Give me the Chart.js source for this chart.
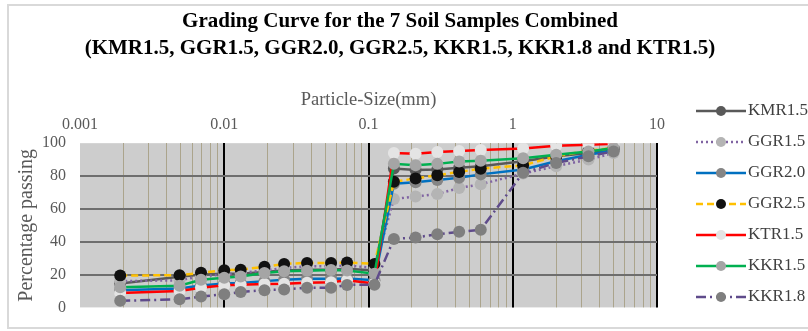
<!DOCTYPE html>
<html>
<head>
<meta charset="utf-8">
<script src="https://cdn.jsdelivr.net/npm/chart.js@4/dist/chart.umd.min.js"></script>
<style>
  html, body { margin: 0; padding: 0; background: #fff; }
  #wrap { width: 808px; height: 331px; }
</style>
</head>
<body>
<div id="wrap"><canvas id="chart" width="808" height="331"></canvas></div>
<script>
// particle sizes (mm) - hydrometer + sieves
const sizes = [0.0019, 0.0049, 0.0069, 0.01, 0.013, 0.019, 0.026, 0.0375, 0.055, 0.071, 0.11,
               0.15, 0.212, 0.3, 0.425, 0.6, 1.18, 2, 3.35, 5];

// percentage passing per sample
const kmr15 = [14.6, 18.7, 20, 20.5, 20.5, 21.5, 22.5, 23, 23, 23.5, 22.5, 84.6, 83.7, 84, 85, 86, 89, 92, 94, 96];
const ggr15 = [16, 16.5, 19, 20, 21, 22.5, 24, 25, 25, 25.5, 24, 66, 67.5, 69, 72.7, 75, 81.5, 86, 90, 94];
const ggr20 = [10.5, 11.5, 13.3, 14.6, 14.8, 16, 16.8, 17.4, 17.4, 17.6, 16.5, 75.3, 76.2, 77.6, 79, 81, 84, 89, 93, 95.5];
const ggr25 = [19.4, 19.6, 21.1, 22.6, 23, 24.7, 26.5, 27.1, 27.1, 27.3, 26.5, 76.5, 78.5, 80.5, 82.5, 84.5, 86.5, 92, 95.5, 97];
const ktr15 = [8.8, 10, 12, 13.5, 13.8, 14.2, 14.4, 15, 15.3, 16.5, 14.5, 94, 93.5, 94.6, 95.3, 95.9, 96.8, 98.5, 99, 99.6];
const kkr15 = [12.3, 13.2, 16.8, 18, 18.8, 21, 22, 22.3, 22.8, 22.5, 20.5, 87.5, 86.5, 87.4, 88.8, 89.3, 90.8, 93, 95, 97];
const kkr18 = [4, 4.9, 6.6, 8, 9.4, 10.5, 10.9, 12, 12, 13.7, 13.8, 41.7, 42.6, 44.5, 46, 47.3, 82, 88, 92, 95];

// axis decades and labels
const decades = [0.001, 0.01, 0.1, 1, 10];
const xTickLabels = ["0.001", "0.01", "0.1", "1", "10"];

const serif = "'Liberation Serif', 'Times New Roman', serif";

// gridline positions 1..9 in each decade
const gridTicks = [];
for (let i = 0; i < decades.length - 1; i++) {
    for (let k = 1; k <= 9; k++) gridTicks.push(k * decades[i]);
}
gridTicks.push(decades[decades.length - 1]);

const pts = arr => sizes.map((s, i) => ({ x: s, y: arr[i] }));

function serie(label, arr, line, marker, dash) {
    return {
        type: "line",
        label: label,
        data: pts(arr),
        borderColor: line,
        borderWidth: 2.5,
        borderDash: dash || [],
        pointBackgroundColor: marker,
        pointBorderColor: marker,
        pointBorderWidth: 0,
        pointRadius: 6,
        pointHoverRadius: 6,
        tension: 0,
        fill: false
    };
}

const datasets = [
    serie("KMR1.5", kmr15, "#595959", "#595959"),
    serie("GGR1.5", ggr15, "#8064a2", "#b4b4b4", [2, 3]),
    serie("GGR2.0", ggr20, "#0070c0", "#858585"),
    serie("GGR2.5", ggr25, "#ffc000", "#111111", [7, 4]),
    serie("KTR1.5", ktr15, "#ff0000", "#e4e4e4"),
    serie("KKR1.5", kkr15, "#00b050", "#a5a5a5"),
    serie("KKR1.8", kkr18, "#5f4b8b", "#7f7f7f", [10, 4, 2, 4])
];
// later series on top, like excel
datasets.forEach((d, i) => d.order = datasets.length - i);

// fondo del area + borde del grafico
const fondo = {
    id: "fondo",
    beforeDraw(chart) {
        const { ctx, chartArea: { left, top, width, height } } = chart;
        ctx.save();
        ctx.fillStyle = "#fff";
        ctx.fillRect(0, 0, chart.width, chart.height);
        ctx.strokeStyle = "#d9d9d9";
        ctx.lineWidth = 2;
        ctx.strokeRect(8, 5, chart.width, chart.height - 8);
        ctx.fillStyle = "#cdcdcd";
        ctx.fillRect(left, top, width, height);
        ctx.restore();
    }
};

// leyenda estilo excel (linea + marcador)
const leyenda = {
    id: "leyenda",
    afterDraw(chart) {
        const { ctx } = chart;
        ctx.save();
        chart.data.datasets.forEach((ds, i) => {
            const y = 111 + i * 31;
            ctx.strokeStyle = ds.borderColor;
            ctx.lineWidth = 2.5;
            ctx.setLineDash(ds.borderDash);
            ctx.beginPath();
            ctx.moveTo(696, y);
            ctx.lineTo(746, y);
            ctx.stroke();
            ctx.setLineDash([]);
            ctx.fillStyle = ds.pointBackgroundColor;
            ctx.beginPath();
            ctx.arc(721, y, 5, 0, Math.PI * 2);
            ctx.fill();
            ctx.fillStyle = "#404040";
            ctx.font = "17px " + serif;
            ctx.textBaseline = "middle";
            ctx.textAlign = "left";
            ctx.fillText(ds.label, 748, y);
        });
        ctx.restore();
    }
};

new Chart(document.getElementById("chart"), {
    data: { datasets: datasets },
    options: {
        responsive: false,
        animation: false,
        layout: { padding: { left: 0, right: 8, top: 0, bottom: 8 } },
        plugins: {
            legend: { display: false },
            tooltip: { enabled: false },
            title: {
                display: true,
                text: ["Grading Curve for the 7 Soil Samples Combined",
                       "(KMR1.5, GGR1.5, GGR2.0, GGR2.5, KKR1.5, KKR1.8 and KTR1.5)"],
                color: "#000",
                font: { family: serif, size: 21, weight: "bold", lineHeight: 1.29 },
                padding: { top: 8, bottom: 0 }
            }
        },
        scales: {
            x: {
                type: "logarithmic",
                position: "top",
                min: 0.001,
                max: 10,
                afterBuildTicks: scale => { scale.ticks = gridTicks.map(v => ({ value: v })); },
                afterFit: scale => { scale.height = 81; },
                border: { display: false },
                grid: {
                    drawTicks: false,
                    color: c => {
                        const v = c.tick ? c.tick.value : 0;
                        if (v === decades[0]) return "rgba(0,0,0,0)";
                        return decades.includes(v) ? "#000" : "#aba48c";
                    },
                    lineWidth: c => (c.tick && decades.includes(c.tick.value)) ? 2 : 1
                },
                ticks: {
                    autoSkip: false,
                    maxRotation: 0,
                    padding: 9,
                    color: "#595959",
                    font: { family: serif, size: 16 },
                    callback: v => {
                        const i = decades.indexOf(v);
                        return i >= 0 ? xTickLabels[i] : "";
                    }
                },
                title: {
                    display: true,
                    text: "Particle-Size(mm)",
                    color: "#595959",
                    font: { family: serif, size: 18.5 },
                    padding: { top: 27, bottom: 0 }
                }
            },
            y: {
                min: 0,
                max: 100,
                afterFit: scale => { scale.width = 80; },
                border: { display: false },
                grid: {
                    drawTicks: false,
                    color: c => (c.tick && c.tick.value > 0 && c.tick.value < 100) ? "#6e6e6e" : "rgba(0,0,0,0)",
                    lineWidth: 2
                },
                ticks: {
                    stepSize: 20,
                    padding: 14,
                    color: "#595959",
                    font: { family: serif, size: 16 }
                },
                title: {
                    display: true,
                    text: "Percentage passing",
                    color: "#595959",
                    font: { family: serif, size: 20 },
                    padding: { top: 15, bottom: 0 }
                }
            },
            // espacio vacio a la derecha para la leyenda
            espacio: {
                type: "linear",
                position: "right",
                afterFit: scale => { scale.width = 143; },
                border: { display: false },
                grid: { display: false },
                ticks: { display: false }
            }
        }
    },
    plugins: [fondo, leyenda]
});
</script>
</body>
</html>
